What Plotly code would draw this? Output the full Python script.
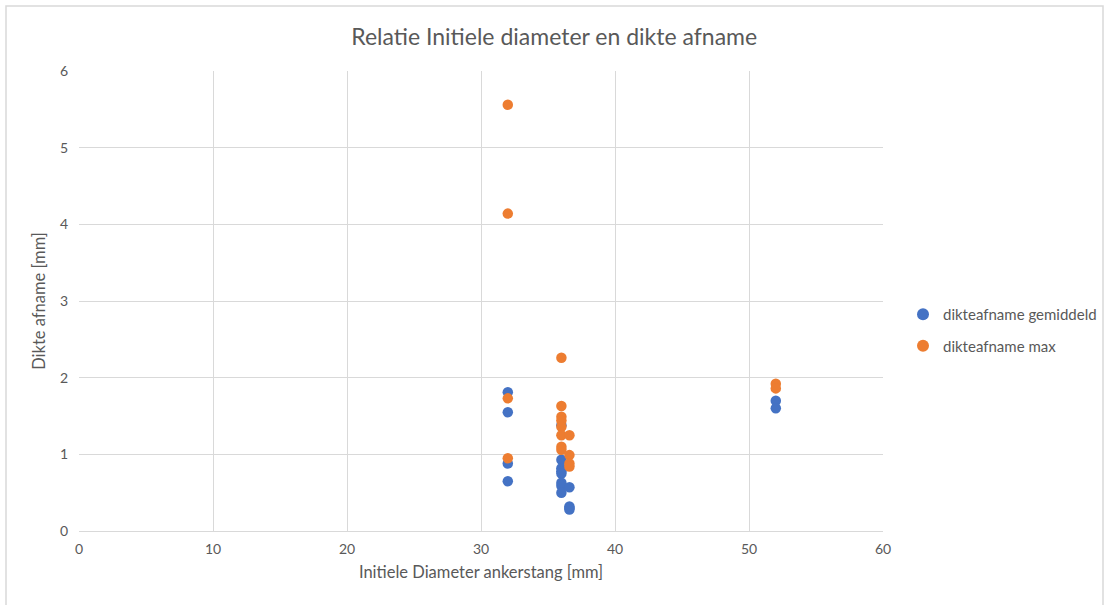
import plotly.graph_objects as go

# Initial anchor-rod diameter [mm] and measured thickness loss [mm]
diam_gem = [32, 32, 32, 32,
            36, 36, 36, 36, 36, 36, 36, 36,
            36.6, 36.6, 36.6, 36.6,
            52, 52]
afname_gem = [1.81, 1.55, 0.88, 0.65,
              1.38, 0.93, 0.82, 0.78, 0.75, 0.63, 0.59, 0.50,
              0.57, 0.32, 0.30, 0.28,
              1.70, 1.60]

diam_max = [32, 32, 32, 32,
            36, 36, 36, 36, 36, 36, 36, 36,
            36.6, 36.6, 36.6, 36.6,
            52, 52]
afname_max = [5.56, 4.14, 1.73, 0.95,
              2.26, 1.63, 1.49, 1.44, 1.36, 1.25, 1.10, 1.06,
              1.25, 0.99, 0.88, 0.84,
              1.92, 1.86]

x_ticks = [0, 10, 20, 30, 40, 50, 60]
y_ticks = [0, 1, 2, 3, 4, 5, 6]

BLUE = "#4472C4"
ORANGE = "#ED7D31"
GRID = "#D9D9D9"
TEXT = "#595959"
FONT = "Lato, Carlito, Calibri, sans-serif"

fig = go.Figure()
fig.add_trace(go.Scatter(
    x=diam_gem, y=afname_gem, mode="markers", name="dikteafname gemiddeld",
    legendgroup="g1",
    marker=dict(color=BLUE, size=10.5, line=dict(width=0)),
))
fig.add_trace(go.Scatter(
    x=diam_max, y=afname_max, mode="markers", name="dikteafname max",
    legendgroup="g2",
    marker=dict(color=ORANGE, size=10.5, line=dict(width=0)),
))

fig.update_layout(
    width=1104, height=605,
    paper_bgcolor="white", plot_bgcolor="white",
    margin=dict(l=79, r=221, t=71, b=74, autoexpand=False),
    font=dict(family=FONT, color=TEXT, size=14),
    title=dict(text="Relatie Initiele diameter en dikte afname",
               x=0.502, xanchor="center", xref="container",
               y=1 - 37 / 605, yanchor="middle",
               font=dict(size=23, color=TEXT, family=FONT)),
    showlegend=True,
    legend=dict(xref="container", yref="container",
                x=903 / 1104, y=1 - 330 / 605, xanchor="left", yanchor="middle",
                font=dict(size=15, color=TEXT, family=FONT),
                itemsizing="constant", tracegroupgap=9,
                bgcolor="rgba(0,0,0,0)"),
    xaxis=dict(range=[0, 60], tickvals=x_ticks, showgrid=True, gridcolor=GRID,
               gridwidth=1, zeroline=False, showline=True, linecolor=GRID,
               linewidth=1, ticks="", tickfont=dict(size=14, color=TEXT),
               ticklabelstandoff=5,
               title=dict(text="Initiele Diameter ankerstang [mm]",
                          font=dict(size=16.5, color=TEXT), standoff=10)),
    yaxis=dict(range=[0, 6], tickvals=y_ticks, showgrid=True, gridcolor=GRID,
               gridwidth=1, zeroline=False, showline=False, ticks="",
               tickfont=dict(size=14, color=TEXT), ticklabelstandoff=10,
               title=dict(text="Dikte afname [mm]",
                          font=dict(size=16.5, color=TEXT), standoff=10)),
    shapes=[dict(type="rect", xref="paper", yref="paper",
                 x0=(6 - 79) / 804, x1=(1103 - 79) / 804,
                 y0=(531 - 615) / 460, y1=(531 - 6) / 460,
                 line=dict(color=GRID, width=1.5), fillcolor="rgba(0,0,0,0)",
                 layer="below")],
)

fig.write_html("out.html")
